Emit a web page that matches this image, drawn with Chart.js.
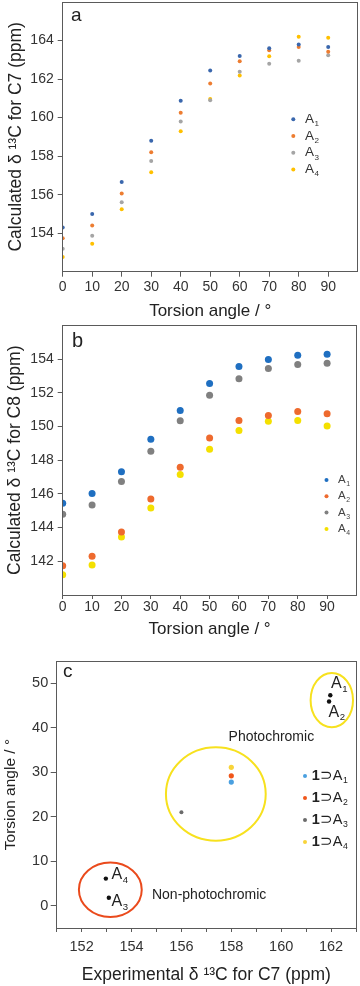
<!DOCTYPE html>
<html>
<head>
<meta charset="utf-8">
<script src="https://cdn.jsdelivr.net/npm/chart.js@4.4.1/dist/chart.umd.min.js"></script>
<style>
  body { margin: 0; background: #fff; width: 360px; height: 986px; overflow: hidden; position: relative; }
  canvas { position: absolute; left: 0; }
  #chartA { top: 0; }
  #chartB { top: 322px; }
  #chartC { top: 640px; }
</style>
</head>
<body>
<canvas id="chartA" width="360" height="322"></canvas>
<canvas id="chartB" width="360" height="318"></canvas>
<canvas id="chartC" width="360" height="346"></canvas>
<script>
// Torsion angles (deg) used by panels a and b
const torsionAngles = [0, 10, 20, 30, 40, 50, 60, 70, 80, 90];
const guestNames = ['A1', 'A2', 'A3', 'A4'];

// Panel a: calculated 13C shift of C7 (ppm)
const c7A1 = [154.3, 155.0, 156.65, 158.8, 160.87, 162.45, 163.2, 163.6, 163.8, 163.66];
const c7A2 = [153.73, 154.4, 156.06, 158.2, 160.25, 161.77, 162.93, 163.5, 163.66, 163.42];
const c7A3 = [153.19, 153.86, 155.6, 157.75, 159.8, 160.9, 162.38, 162.8, 162.95, 163.23];
const c7A4 = [152.76, 153.45, 155.24, 157.16, 159.29, 160.96, 162.18, 163.19, 164.2, 164.15];

// Panel b: calculated 13C shift of C8 (ppm)
const c8A1 = [145.44, 146.02, 147.32, 149.24, 150.96, 152.56, 153.56, 153.98, 154.24, 154.3];
const c8A2 = [141.74, 142.3, 143.74, 145.7, 147.58, 149.32, 150.36, 150.66, 150.9, 150.76];
const c8A3 = [144.8, 145.34, 146.74, 148.54, 150.34, 151.86, 152.84, 153.44, 153.68, 153.76];
const c8A4 = [141.2, 141.78, 143.44, 145.16, 147.16, 148.66, 149.76, 150.32, 150.36, 150.04];

// Panel c: experimental C7 shift vs torsion angle
const complexNames = ['1⊃A1', '1⊃A2', '1⊃A3', '1⊃A4'];
const complexShift = [158.0, 158.0, 156.0, 158.0];
const complexAngle = [27.8, 29.2, 21.0, 31.1];
const freeShift = [161.97, 161.92, 153.09, 152.97];
const freeAngle = [47.3, 45.9, 1.8, 6.1];

// Panel c: rings round the groups (centre and half axes in data units)
const ringX = [162.03, 157.38, 153.15];
const ringY = [46.2, 25.1, 3.6];
const ringRx = [0.85, 2.0, 1.26];
const ringRy = [6.1, 10.5, 6.1];

// Panel c: text notes (data units)
const noteText = ['A1', 'A2', 'A4', 'A3', 'Photochromic', 'Non-photochromic'];
const noteX = [162.0, 161.9, 153.2, 153.2, 157.89, 154.82];
const noteY = [50.0, 43.5, 6.9, 0.9, 38.0, 2.4];

// Tick values
const ticksA_x = [0, 10, 20, 30, 40, 50, 60, 70, 80, 90];
const ticksA_y = [154, 156, 158, 160, 162, 164];
const ticksB_y = [142, 144, 146, 148, 150, 152, 154];
const ticksC_x = [151, 152, 153, 154, 155, 156, 157, 158, 159, 160, 161, 162, 163];
const ticksC_y = [0, 10, 20, 30, 40, 50];

const FONT = '"Liberation Sans", Arial, sans-serif';
const AXIS_COLOR = '#5a5a5a';
const TEXT_COLOR = '#222';
const colorsA = ['#3a67ad', '#ed7d31', '#a5a5a5', '#ffc000'];
const colorsB = ['#1f6fc1', '#ee6a2e', '#808080', '#f4e000'];
const colorsC = ['#4aa0e0', '#f0561a', '#6b6b6b', '#f8d43a'];
const ringColors = ['#f7e11e', '#f7e11e', '#ea4a1c'];

Chart.defaults.font.family = FONT;
Chart.defaults.color = '#333';

function toPoints(xs, ys) {
    return xs.map((x, i) => ({ x: x, y: ys[i] }));
}

// Draw "A1" style label with the last digit as subscript
function drawLabel(ctx, text, x, y, size, boldFirst) {
    let body = text.slice(0, -1);
    const sub = text.slice(-1);
    let cx = x;
    ctx.textAlign = 'left';
    ctx.textBaseline = 'middle';
    if (boldFirst) {
        ctx.font = 'bold ' + size + 'px ' + FONT;
        ctx.fillText(body[0], cx, y);
        cx += ctx.measureText(body[0]).width;
        body = body.slice(1);
    }
    ctx.font = size + 'px ' + FONT;
    ctx.fillText(body, cx, y);
    cx += ctx.measureText(body).width;
    ctx.font = (size * 0.6) + 'px ' + FONT;
    ctx.fillText(sub, cx + 0.5, y + size * 0.35);
}

// Frame, panel letter, legend and notes
const panelDecor = {
    id: 'panelDecor',
    afterDraw(chart, args, o) {
        const ctx = chart.ctx;
        const area = chart.chartArea;
        ctx.save();
        ctx.strokeStyle = AXIS_COLOR;
        ctx.lineWidth = 1;
        const l = Math.round(area.left - 0.5) + 0.5;
        const t = Math.round(area.top - 0.5) + 0.5;
        const r = Math.round(area.right - 0.5) + 0.5;
        const b = Math.round(area.bottom - 0.5) + 0.5;
        ctx.strokeRect(l, t, r - l, b - t);

        ctx.fillStyle = TEXT_COLOR;
        ctx.font = o.letterSize + 'px ' + FONT;
        ctx.textAlign = 'left';
        ctx.textBaseline = 'alphabetic';
        ctx.fillText(o.letter, o.letterX, o.letterY);

        const lg = o.legend;
        chart.data.datasets.slice(0, 4).forEach((ds, i) => {
            const y = lg.y + i * lg.dy;
            ctx.fillStyle = ds.backgroundColor;
            ctx.beginPath();
            ctx.arc(lg.x, y, lg.r, 0, Math.PI * 2);
            ctx.fill();
            ctx.fillStyle = lg.color;
            drawLabel(ctx, ds.label, lg.textX, y, lg.size, lg.boldFirst);
        });

        if (o.notes) {
            const xs = chart.scales.x, ys = chart.scales.y;
            // rings
            ringX.forEach((cx, i) => {
                const px = xs.getPixelForValue(cx);
                const py = ys.getPixelForValue(ringY[i]);
                const rx = Math.abs(xs.getPixelForValue(cx + ringRx[i]) - px);
                const ry = Math.abs(ys.getPixelForValue(ringY[i] + ringRy[i]) - py);
                ctx.strokeStyle = ringColors[i];
                ctx.lineWidth = 2;
                ctx.beginPath();
                ctx.ellipse(px, py, rx, ry, 0, 0, Math.PI * 2);
                ctx.stroke();
            });
            // notes
            ctx.fillStyle = TEXT_COLOR;
            noteText.forEach((txt, i) => {
                const px = xs.getPixelForValue(noteX[i]);
                const py = ys.getPixelForValue(noteY[i]);
                if (/^A\d$/.test(txt)) {
                    drawLabel(ctx, txt, px, py, 16, false);
                } else {
                    ctx.font = '14px ' + FONT;
                    ctx.textAlign = 'left';
                    ctx.textBaseline = 'middle';
                    ctx.fillText(txt, px, py);
                }
            });
        }
        ctx.restore();
    }
};

function axis(o) {
    return {
        type: 'linear',
        min: o.min,
        max: o.max,
        afterBuildTicks: scale => { scale.ticks = o.ticks.map(v => ({ value: v })); },
        afterFit: scale => {
            if (o.width) scale.width = o.width;
            if (o.height) scale.height = o.height;
            // no extra room for overhanging tick labels
            scale.paddingTop = 0;
            scale.paddingBottom = 0;
            scale.paddingLeft = 0;
            scale.paddingRight = 0;
        },
        grid: { drawOnChartArea: false, drawTicks: true, tickLength: o.tickLength, color: AXIS_COLOR, lineWidth: 1 },
        border: { display: true, color: AXIS_COLOR, width: 1 },
        ticks: {
            autoSkip: false,
            maxRotation: 0,
            padding: o.padding,
            color: '#333',
            font: { size: o.tickSize },
            callback: o.label || (v => v)
        },
        title: {
            display: true,
            text: o.title,
            color: TEXT_COLOR,
            font: { size: o.titleSize },
            padding: o.titlePadding
        }
    };
}

function scatterSets(names, xs, values, colors, radius) {
    return names.map((name, i) => ({
        label: name,
        data: toPoints(xs, values[i]),
        backgroundColor: colors[i],
        borderWidth: 0,
        pointRadius: radius,
        pointHoverRadius: radius
    }));
}

function baseOptions(padding, scales, decor) {
    return {
        responsive: false,
        animation: false,
        layout: { padding: padding },
        scales: scales,
        plugins: {
            legend: { display: false },
            tooltip: { enabled: false },
            panelDecor: decor
        }
    };
}

// Panel a
new Chart(document.getElementById('chartA'), {
    type: 'scatter',
    data: { datasets: scatterSets(guestNames, torsionAngles, [c7A1, c7A2, c7A3, c7A4], colorsA, 2) },
    options: baseOptions(
        { top: 2, right: 2.3, left: 0, bottom: 0 },
        {
            x: axis({ min: 0, max: 100, ticks: ticksA_x, height: 50.3, tickLength: 5, padding: 2, tickSize: 14,
                      title: 'Torsion angle / °', titleSize: 17, titlePadding: { top: 0, bottom: 0 } }),
            y: axis({ min: 152, max: 166, ticks: ticksA_y, width: 62.7, tickLength: 5, padding: 4, tickSize: 14,
                      title: 'Calculated δ ¹³C for C7 (ppm)', titleSize: 17.5, titlePadding: { top: 5.5, bottom: 0 } })
        },
        { letter: 'a', letterSize: 19, letterX: 71, letterY: 20.7,
          legend: { x: 293.3, y: 119.3, dy: 16.7, r: 2, textX: 305, size: 13.5, color: '#333', boldFirst: false } }
    ),
    plugins: [panelDecor]
});

// Panel b
new Chart(document.getElementById('chartB'), {
    type: 'scatter',
    data: { datasets: scatterSets(guestNames, torsionAngles, [c8A1, c8A2, c8A3, c8A4], colorsB, 3.5) },
    options: baseOptions(
        { top: 3, right: 2.3, left: 0, bottom: 0 },
        {
            x: axis({ min: 0, max: 100, ticks: ticksA_x, height: 45, tickLength: 4, padding: 0, tickSize: 14,
                      title: 'Torsion angle / °', titleSize: 17, titlePadding: { top: 0, bottom: 0 } }),
            y: axis({ min: 140, max: 156, ticks: ticksB_y, width: 62.7, tickLength: 5, padding: 4, tickSize: 14,
                      title: 'Calculated δ ¹³C for C8 (ppm)', titleSize: 17.5, titlePadding: { top: 5, bottom: 0 } })
        },
        { letter: 'b', letterSize: 20, letterX: 72, letterY: 24.7,
          legend: { x: 326.5, y: 158, dy: 16.3, r: 2, textX: 338, size: 11.5, color: '#444', boldFirst: false } }
    ),
    plugins: [panelDecor]
});

// Panel c: one dataset per complex, then the free guests in black
const setsC = complexNames.map((name, i) => ({
    label: name,
    data: [{ x: complexShift[i], y: complexAngle[i] }],
    backgroundColor: colorsC[i],
    borderWidth: 0,
    pointRadius: i === 2 ? 2 : 2.6
}));
setsC.push({
    label: 'free guests',
    data: toPoints(freeShift, freeAngle),
    backgroundColor: '#111',
    borderWidth: 0,
    pointRadius: 2.2
});

new Chart(document.getElementById('chartC'), {
    type: 'scatter',
    data: { datasets: setsC },
    options: baseOptions(
        { top: 21, right: 2.3, left: 0, bottom: 0 },
        {
            x: axis({ min: 151, max: 163, ticks: ticksC_x, height: 58, tickLength: 4, padding: 6, tickSize: 14.5,
                      label: v => (v % 2 === 0 ? v : ''),
                      title: 'Experimental δ ¹³C for C7 (ppm)', titleSize: 17.5, titlePadding: { top: 0, bottom: 0 } }),
            y: axis({ min: -5, max: 55, ticks: ticksC_y, width: 56.7, tickLength: 6, padding: 2.5, tickSize: 14.5,
                      title: 'Torsion angle / °', titleSize: 15.5, titlePadding: { top: 1, bottom: 0 } })
        },
        { letter: 'c', letterSize: 19, letterX: 63, letterY: 36.7, notes: true,
          legend: { x: 305, y: 136, dy: 22, r: 2, textX: 311.7, size: 14.5, color: TEXT_COLOR, boldFirst: true } }
    ),
    plugins: [panelDecor]
});
</script>
</body>
</html>
